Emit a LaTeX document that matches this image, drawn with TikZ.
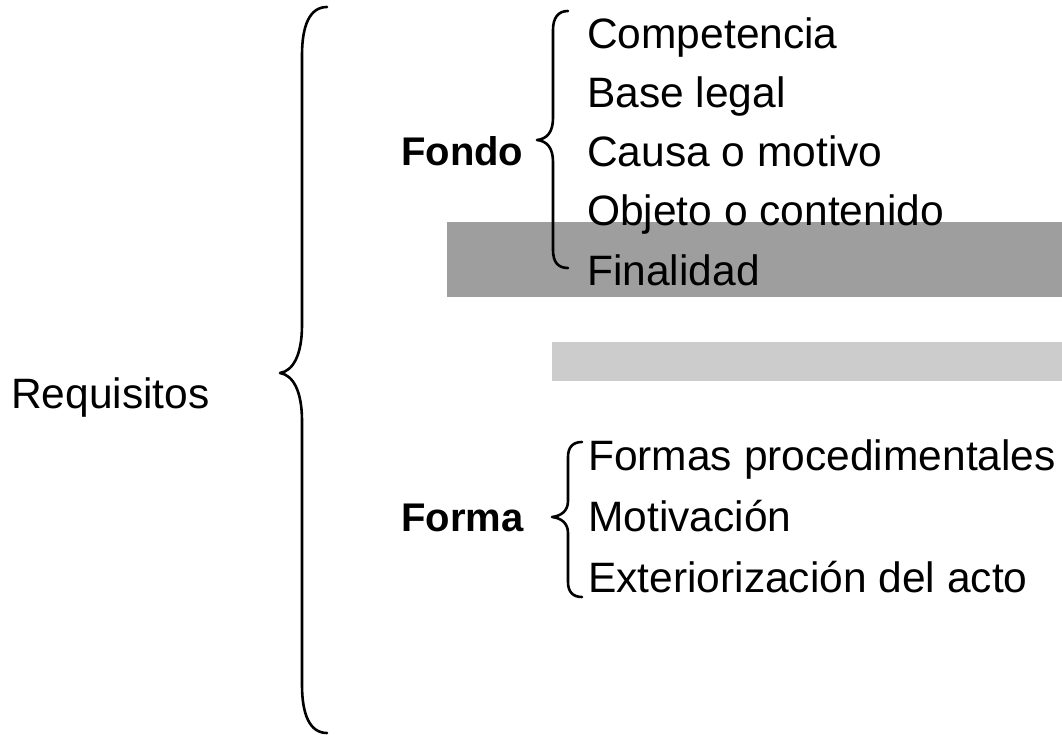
\documentclass[tikz,border=0pt]{standalone}
\usepackage{fontspec}
\setmainfont{Liberation Sans}
\definecolor{darkbar}{HTML}{9E9E9E}
\definecolor{lightbar}{HTML}{CCCCCC}
\begin{document}
\begin{tikzpicture}[x=1pt,y=-1pt,
  txt/.style={anchor=base west, inner sep=0pt, font=\fontsize{42.5}{50}\selectfont},
  hd/.style={anchor=base west, inner sep=0pt, font=\fontsize{40}{48}\selectfont\bfseries},
  bracepath/.style={line width=2.6pt, line cap=round, line join=round}]
\useasboundingbox (0,0) rectangle (1062,735);
% shaded bars
\fill[darkbar] (447,222) rectangle (1062,297);
\fill[lightbar] (552,342) rectangle (1062,381);
% texts
\node[txt] (req) at (11,408) {Requisitos};
\node[hd] (fondo) at (401,166) {Fondo};
\node[hd] (forma) at (401,531) {Forma};
\node[txt] (f1) at (587,49) {Competencia};
\node[txt] (f2) at (587,108) {Base legal};
\node[txt] (f3) at (587,167) {Causa o motivo};
\node[txt] (f4) at (587,226) {Objeto o contenido};
\node[txt] (f5) at (587,285) {Finalidad};
\node[txt] (m1) at (588,470) {Formas procedimentales};
\node[txt] (m2) at (588,531) {Motivación};
\node[txt] (m3) at (588,592) {Exteriorización del acto};
% big brace
\draw[bracepath] (327,7) .. controls (310,7) and (302,25) .. (302,55) -- (302,325)
  .. controls (302,355) and (293,371) .. (280,373)
  .. controls (293,375) and (302,391) .. (302,421) -- (302,685)
  .. controls (302,715) and (310,733) .. (327,733);
% Fondo brace
\draw[bracepath] (568,11) .. controls (558,11) and (553,18) .. (553,30) -- (553,118)
  .. controls (553,132) and (547,139) .. (537,140)
  .. controls (547,141) and (553,148) .. (553,162) -- (553,250)
  .. controls (553,262) and (558,268) .. (568,268);
% Forma brace
\draw[bracepath] (582,442) .. controls (573,442) and (568,447) .. (568,457) -- (568,501)
  .. controls (568,511) and (561,516) .. (552,517)
  .. controls (561,518) and (568,523) .. (568,533) -- (568,582)
  .. controls (568,592) and (573,597) .. (582,597);
\end{tikzpicture}
\end{document}
